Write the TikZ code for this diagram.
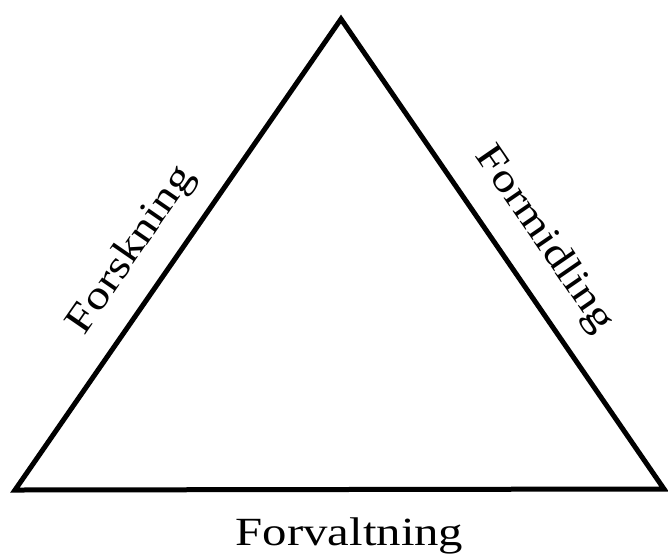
\documentclass[tikz,border=0pt]{standalone}
\usepackage{graphicx}
\usepackage{fontspec}
\setmainfont{Liberation Serif}
\tikzset{
  edge/.style={line width=5pt, line join=miter, draw=black},
  lbl/.style={inner sep=0pt, anchor=base, font=\fontsize{40}{48}\selectfont}
}
\begin{document}
\begin{tikzpicture}[x=1pt,y=-1pt]
  \useasboundingbox (0,0) rectangle (668,558);
  \fill[white] (0,0) rectangle (668,558);
  \coordinate (bl) at (15,490);
  \coordinate (apex) at (341,19);
  \coordinate (br) at (664,489);
  \draw[edge] (bl) -- (apex) -- (br) -- cycle;
  \node[lbl, rotate=55.4] (forsk) at (139.5,256) {\scalebox{1.2}[1]{Forskning}};
  \node[lbl, rotate=-55.5] (formid) at (536,245) {\scalebox{1.2}[1]{Formidling}};
  \node[lbl] (forv) at (349.5,545) {\scalebox{1.22}[1]{Forvaltning}};
\end{tikzpicture}
\end{document}
